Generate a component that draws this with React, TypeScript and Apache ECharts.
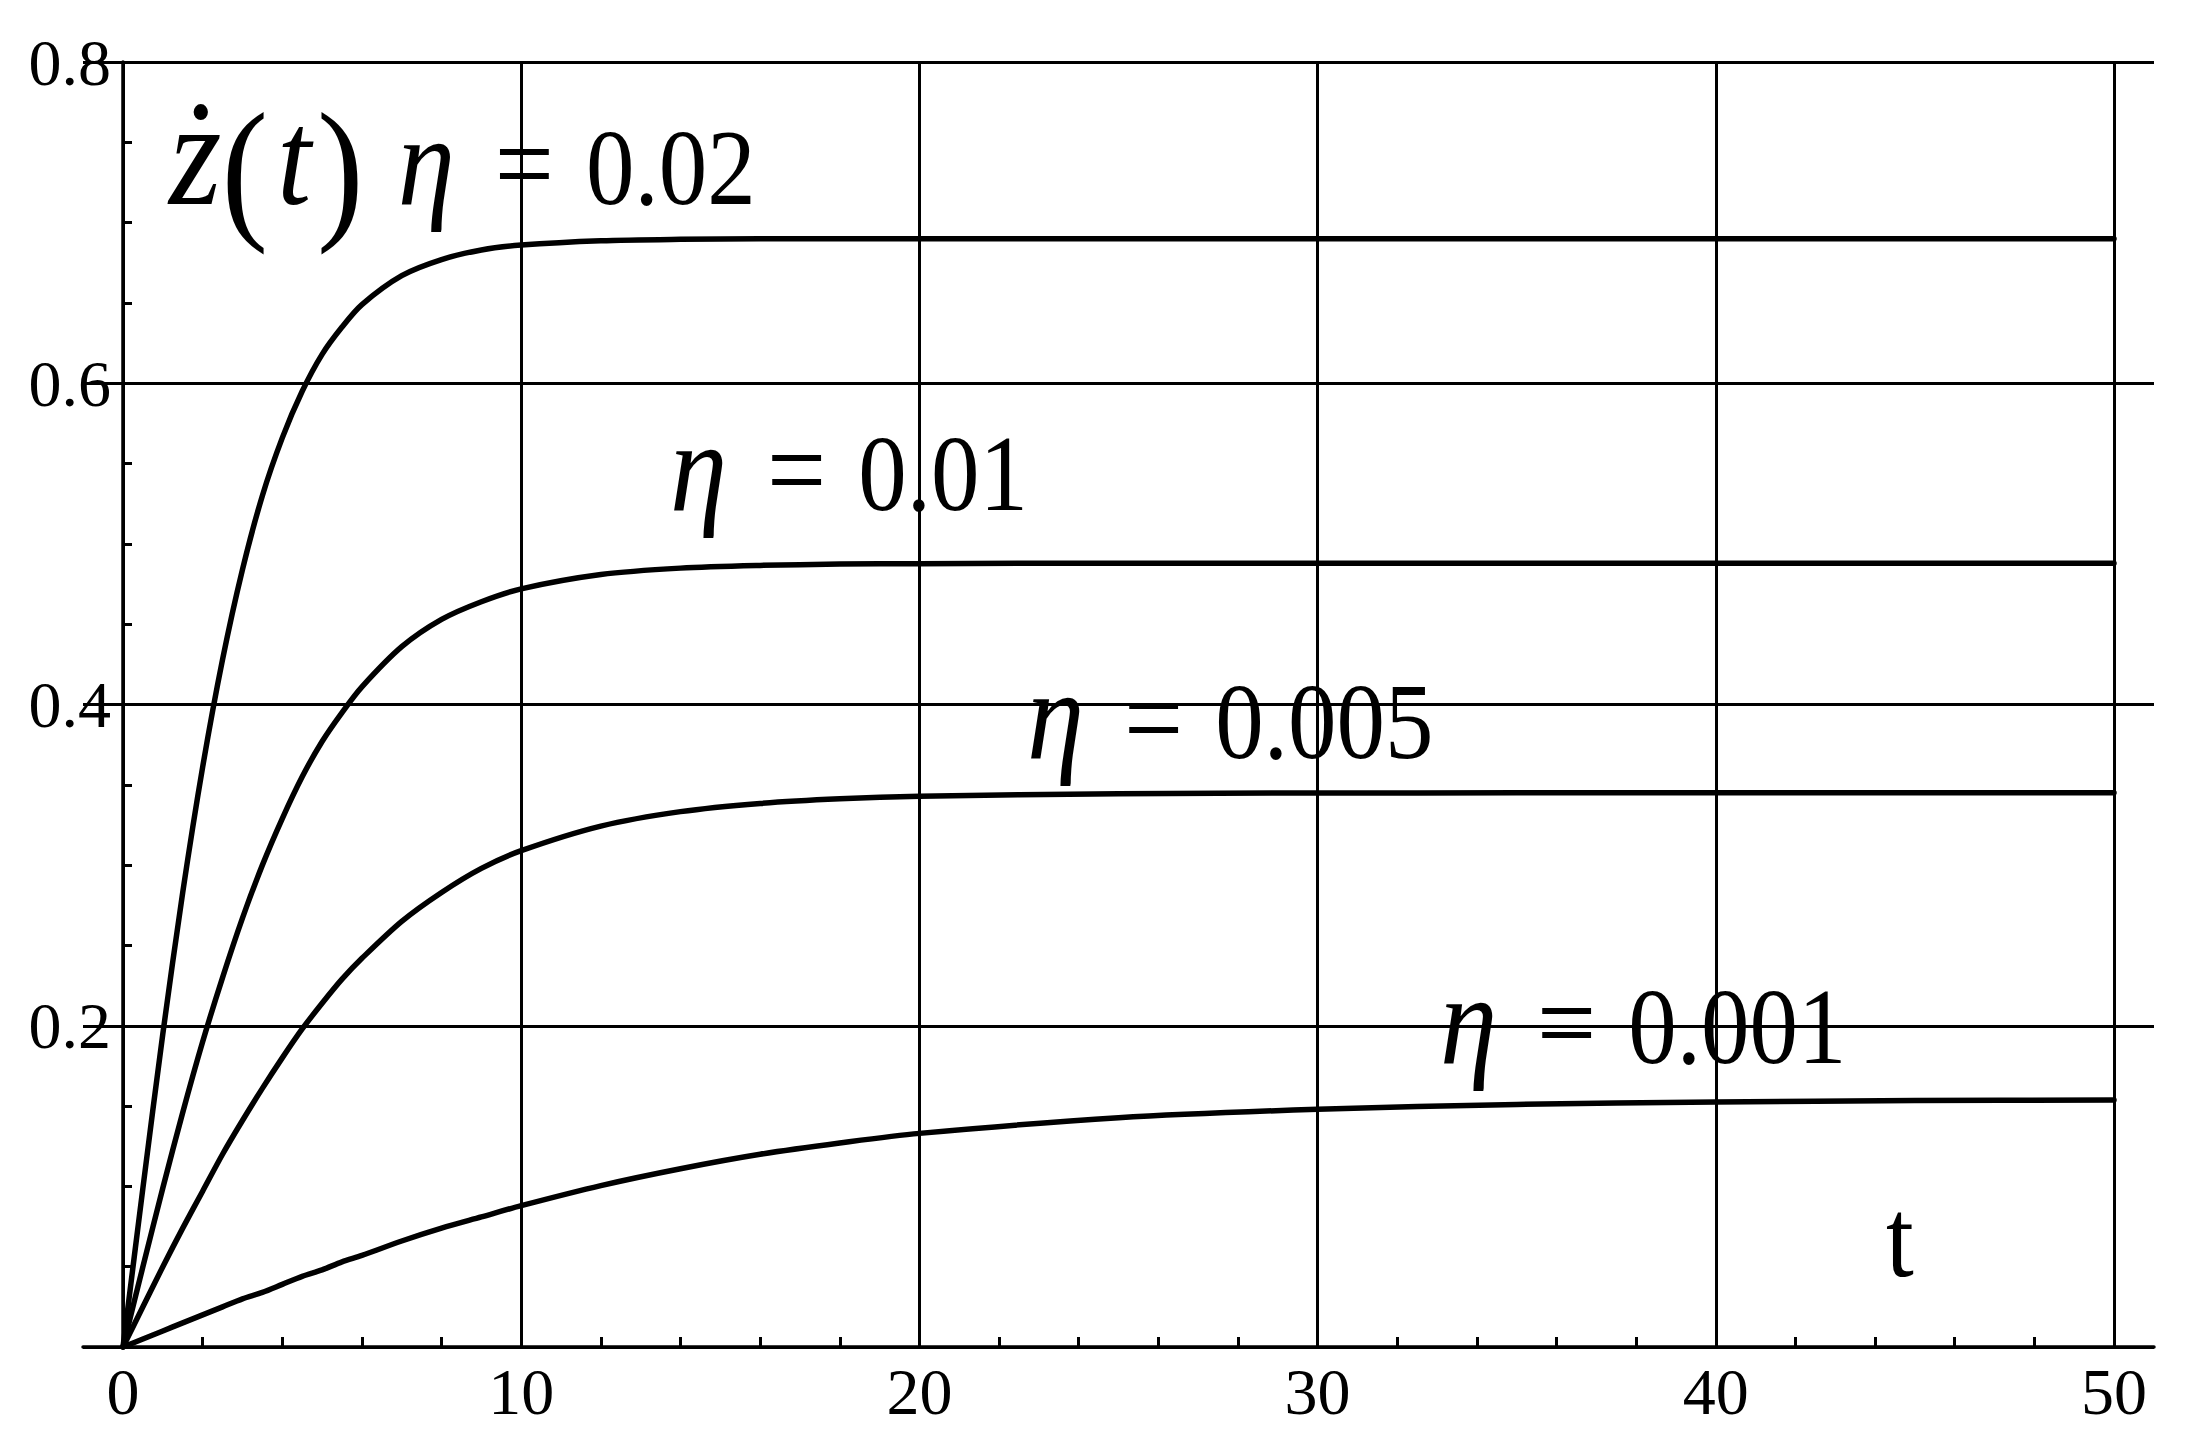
import React, { useEffect, useRef } from "react";
import * as echarts from "echarts";

// time samples (t) shared by every curve
const T = [0, 0.5, 1, 1.5, 2, 2.5, 3, 3.5, 4, 4.5, 5, 5.5, 6, 7, 8, 9, 10, 12, 14, 16, 18, 20, 25, 30, 35, 40, 45, 50];

// ż(t) for each η
const ETA_0_02 = [0, 0.099, 0.195, 0.283, 0.361, 0.428, 0.484, 0.53, 0.566, 0.595, 0.618, 0.635, 0.649, 0.667, 0.677, 0.683, 0.686, 0.6887, 0.6896, 0.6899, 0.69, 0.69, 0.69, 0.69, 0.69, 0.69, 0.69, 0.69];
const ETA_0_01 = [0, 0.05, 0.099, 0.146, 0.19, 0.23, 0.267, 0.3, 0.329, 0.355, 0.377, 0.395, 0.411, 0.436, 0.453, 0.464, 0.472, 0.4809, 0.4849, 0.4866, 0.4874, 0.4877, 0.488, 0.488, 0.488, 0.488, 0.488, 0.488];
const ETA_0_005 = [0, 0.025, 0.05, 0.074, 0.097, 0.12, 0.141, 0.161, 0.18, 0.198, 0.214, 0.229, 0.242, 0.265, 0.283, 0.298, 0.309, 0.3243, 0.3333, 0.3384, 0.3413, 0.3429, 0.3445, 0.3449, 0.345, 0.345, 0.345, 0.345];
const ETA_0_001 = [0, 0.005, 0.01, 0.015, 0.02, 0.025, 0.03, 0.034, 0.039, 0.044, 0.048, 0.053, 0.057, 0.066, 0.074, 0.081, 0.088, 0.1005, 0.111, 0.12, 0.127, 0.133, 0.1427, 0.148, 0.151, 0.1526, 0.1534, 0.1538];

const SERIES_NAMES = ["η = 0.02", "η = 0.01", "η = 0.005", "η = 0.001"];
const X_RANGE = [0, 50];
const X_STEP = 10;
const Y_RANGE = [0, 0.8];
const Y_STEP = 0.2;

const SERIF = '"Liberation Serif", "Times New Roman", serif';

export default function App() {
  const ref = useRef<HTMLDivElement>(null);

  useEffect(() => {
    if (!ref.current) return;
    const chart = echarts.init(ref.current, null, { renderer: "svg" });
    const pair = (ys: number[]) => T.map((t, i) => [t, ys[i]]);
    const line = (name: string, ys: number[]) => ({
      type: "line",
      name,
      data: pair(ys),
      xAxisIndex: 0,
      yAxisIndex: 0,
      symbol: "none",
      showSymbol: false,
      smooth: 0.3,
      silent: true,
      z: 5,
      lineStyle: { color: "#000", width: 5.5, join: "round", cap: "round" },
    });

    const rich = {
      z: { fontFamily: SERIF, fontSize: 135, fontStyle: "italic", fill: "#000", padding: [0, 0, 27, 0] },
      t: { fontFamily: SERIF, fontSize: 122, fontStyle: "italic", fill: "#000", padding: [0, 6, 18, 9] },
      h: { fontFamily: SERIF, fontSize: 115, fontStyle: "italic", fill: "#000", padding: [0, 0, 14, 0] },
      p: { fontFamily: SERIF, fontSize: 140, fill: "#000" },
      q: { fontFamily: SERIF, fontSize: 140, fill: "#000", padding: [0, 34, 0, 0] },
      e: { fontFamily: SERIF, fontSize: 105, fill: "#000", padding: [0, 32, 7, 40] },
      n: { fontFamily: SERIF, fontSize: 97, fill: "#000", padding: [0, 0, 1, 0] },
      u: { fontFamily: SERIF, fontSize: 100, fill: "#000" },
    };

    const ann = (x: number, y: number, text: string) => ({
      type: "text",
      x,
      y,
      scaleY: 1.12,
      z: 1,
      silent: true,
      style: {
        text,
        x: 0,
        y: 0,
        fill: "#000",
        fontFamily: SERIF,
        fontSize: 97,
        align: "left",
        textAlign: "left",
        verticalAlign: "middle",
        textVerticalAlign: "middle",
        rich,
      },
    });

    chart.setOption({
      animation: false,
      backgroundColor: "#fff",
      grid: [
        { left: 123, right: 79, top: 62, bottom: 99 },
        { left: 83, right: 39, top: 62, bottom: 99 },
      ],
      xAxis: [
        {
          type: "value",
          gridIndex: 0,
          min: X_RANGE[0],
          max: X_RANGE[1],
          interval: X_STEP,
          axisLine: { show: false },
          axisTick: { show: false, inside: true },
          minorTick: { show: true, splitNumber: 5, length: 10, lineStyle: { color: "#000", width: 3 } },
          splitLine: { show: true, lineStyle: { color: "#000", width: 3 } },
          axisLabel: { fontFamily: SERIF, fontSize: 66, color: "#000", margin: 11 },
        },
        {
          type: "value",
          gridIndex: 1,
          min: X_RANGE[0] - 1,
          max: X_RANGE[1] + 1,
          axisLine: { show: true, onZero: false, lineStyle: { color: "#000", width: 3.5 } },
          axisTick: { show: false },
          axisLabel: { show: false },
          splitLine: { show: false },
        },
      ],
      yAxis: [
        {
          type: "value",
          gridIndex: 0,
          min: Y_RANGE[0],
          max: Y_RANGE[1],
          interval: Y_STEP,
          axisLine: { show: true, onZero: false, lineStyle: { color: "#000", width: 3.5 } },
          axisTick: { show: false, inside: true },
          minorTick: { show: true, splitNumber: 4, length: 9, lineStyle: { color: "#000", width: 3 } },
          splitLine: { show: false },
          axisLabel: {
            fontFamily: SERIF,
            fontSize: 66,
            color: "#000",
            margin: 12,
            formatter: (v: number) => (v === 0 ? "" : v.toFixed(1)),
          },
        },
        {
          type: "value",
          gridIndex: 1,
          min: Y_RANGE[0],
          max: Y_RANGE[1],
          interval: Y_STEP,
          axisLine: { show: false },
          axisTick: { show: false },
          axisLabel: { show: false },
          splitLine: { show: true, lineStyle: { color: "#000", width: 3 } },
        },
      ],
      series: [
        line(SERIES_NAMES[0], ETA_0_02),
        line(SERIES_NAMES[1], ETA_0_01),
        line(SERIES_NAMES[2], ETA_0_005),
        line(SERIES_NAMES[3], ETA_0_001),
      ],
      graphic: [
        ann(169, 168, "{z|ż}{p|(}{t|t}{q|)}{h|η}{e|=}{n|0.02}"),
        ann(670, 474, "{h|η}{e|=}{n|0.01}"),
        ann(1027, 722, "{h|η}{e|=}{n|0.005}"),
        ann(1440, 1027, "{h|η}{e|=}{n|0.001}"),
        ann(1886, 1238, "{u|t}"),
      ],
    });

    return () => chart.dispose();
  }, []);

  return (
    <div
      ref={ref}
      style={{ position: "fixed", left: 0, top: 0, width: "2193px", height: "1446px", background: "#fff" }}
    />
  );
}
